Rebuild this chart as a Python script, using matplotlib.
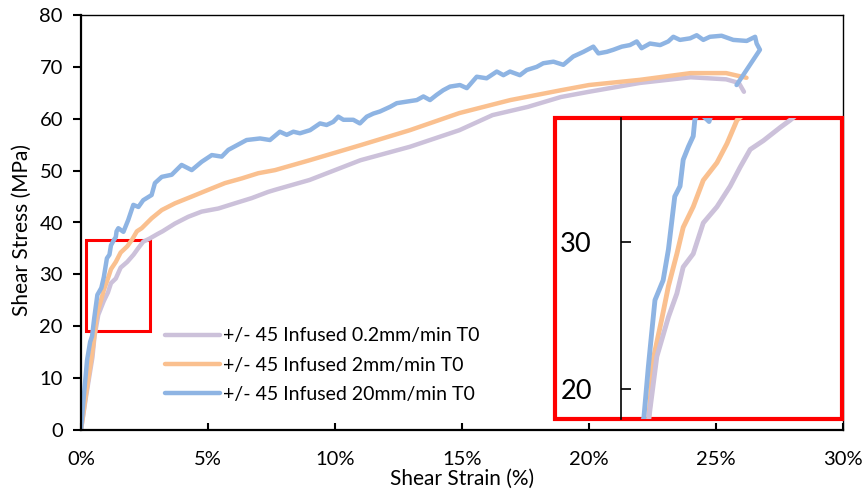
import matplotlib.pyplot as plt
from matplotlib.patches import Rectangle

plt.rcParams['font.family'] = ['Lato', 'DejaVu Sans']

# strain in %, stress in MPa (main chart + zoomed inset)
strain_02 = [0, 0.2, 0.45, 0.53, 0.55, 0.68, 0.90, 1.06, 1.18, 1.37, 1.56, 1.82, 2.07, 2.26, 2.45,
             2.70, 3.02, 3.21, 3.70, 4.22, 4.75, 5.41, 6.06, 6.72, 7.37, 7.64, 9.0,
             11.0, 12.95, 14.9, 16.2, 17.6, 18.9, 20.0, 22.0, 24.0, 25.4, 25.9, 26.1]
stress_02 = [0, 6.5, 14.0, 18.0, 18.6, 22.2, 24.9, 26.5, 28.3, 29.2, 31.3, 32.4, 33.8, 35.1, 36.3,
             36.9, 37.8, 38.3, 39.8, 41.1, 42.1, 42.7, 43.7, 44.7, 45.9, 46.3, 48.2,
             52.0, 54.6, 57.8, 60.7, 62.3, 64.2, 65.2, 66.9, 68.0, 67.6, 66.9, 65.2]

strain_2 = [0, 0.2, 0.42, 0.55, 0.61, 0.77, 0.90, 1.06, 1.18, 1.37, 1.56, 1.82, 2.01, 2.20, 2.39,
            2.78, 3.18, 3.70, 4.36, 5.01, 5.67, 6.33, 6.98, 7.64, 9.0, 11.0,
            12.95, 14.9, 16.9, 18.9, 20.0, 22.0, 24.0, 25.4, 26.2]
stress_2 = [0, 7.0, 14.0, 19.0, 22.0, 24.7, 27.0, 29.2, 31.0, 32.4, 34.2, 35.4, 36.7, 38.3, 38.9,
            40.8, 42.4, 43.7, 45.0, 46.3, 47.6, 48.5, 49.5, 50.1, 52.0, 54.9,
            57.8, 61.1, 63.6, 65.5, 66.5, 67.5, 68.8, 68.8, 67.9]

strain_20 = [0, 0.12, 0.24, 0.36, 0.436, 0.519, 0.582, 0.645, 0.80, 0.90, 0.96, 1.02, 1.12, 1.18,
             1.28, 1.37, 1.40, 1.47, 1.67, 1.86, 2.06, 2.26, 2.45, 2.78, 2.91, 3.18, 3.57, 3.96,
             4.36, 4.75, 5.15, 5.54, 5.8, 6.52,
             7.05, 7.44, 7.83, 8.10, 8.36, 8.62, 9.02, 9.41, 9.67, 9.93, 10.13, 10.33, 10.72, 10.98,
             11.25, 11.51, 11.77, 12.17, 12.43, 12.82, 13.22, 13.48, 13.74, 14.0, 14.26, 14.53, 14.92,
             15.19, 15.58, 15.97, 16.37, 16.63, 16.89, 17.28, 17.55, 17.94, 18.2, 18.6, 18.99, 19.38,
             19.78, 20.17, 20.37, 20.70, 20.96, 21.29, 21.61, 21.88, 22.07, 22.40, 22.80, 23.12, 23.32,
             23.58, 23.98, 24.24, 24.50, 24.76, 25.22, 25.68, 26.21, 26.54, 26.60, 26.73, 25.81]
stress_20 = [0, 7.0, 13.5, 17.0, 18.1, 21.5, 23.8, 26.05, 27.4, 29.5, 31.3, 33.1, 33.8, 35.6,
             36.5, 37.2, 38.3, 38.9, 38.2, 40.5, 43.4, 43.0, 44.3, 45.3, 47.6, 48.8, 49.2, 51.1,
             50.1, 51.7, 53.0, 52.7, 54.0, 55.9,
             56.2, 55.9, 57.5, 56.9, 57.5, 57.2, 57.8, 59.1, 58.8, 59.4, 60.4, 59.8, 59.8, 59.1,
             60.4, 61.0, 61.4, 62.3, 63.0, 63.3, 63.6, 64.3, 63.6, 64.6, 65.5, 66.2, 66.5,
             65.9, 68.1, 67.8, 69.1, 68.4, 69.1, 68.4, 69.4, 70.0, 70.7, 71.0, 70.4, 72.0,
             72.9, 73.9, 72.6, 72.9, 73.3, 73.9, 74.2, 74.9, 73.6, 74.5, 74.2, 74.9, 75.8,
             75.2, 75.5, 76.1, 75.2, 75.8, 76.0, 75.2, 75.0, 75.8, 74.5, 73.3, 66.5]

labels = ['+/- 45 Infused 0.2mm/min T0', '+/- 45 Infused 2mm/min T0', '+/- 45 Infused 20mm/min T0']
colors = ['#CCC1DA', '#FAC08F', '#8EB4E3']
xticks = [0, 5, 10, 15, 20, 25, 30]
yticks = [0, 10, 20, 30, 40, 50, 60, 70, 80]
inset_ticks = [20, 30]

fig = plt.figure(figsize=(8.63, 4.9), dpi=100)
ax = fig.add_axes([81 / 863, 60 / 490, 762 / 863, 415 / 490])

series = [(strain_02, stress_02), (strain_2, stress_2), (strain_20, stress_20)]
for (x, y), c, lab in zip(series, colors, labels):
    ax.plot(x, y, color=c, lw=3.2, label=lab, solid_joinstyle='round', solid_capstyle='round')

ax.set_xlim(0, 30)
ax.set_ylim(0, 80)
ax.set_xticks(xticks)
ax.set_xticklabels([f'{v}%' for v in xticks])
ax.set_yticks(yticks)
ax.tick_params(axis='x', direction='in', length=5, width=1.5, pad=15, labelsize=14.5)
ax.tick_params(axis='y', direction='out', length=6, width=1.5, pad=7, labelsize=14.5)
for s in ['left', 'bottom']:
    ax.spines[s].set_linewidth(1.6)
for s in ['top', 'right']:
    ax.spines[s].set_linewidth(1.0)

ax.set_xlabel('Shear Strain (%)', fontsize=15)
ax.xaxis.label.set_va('center')
ax.xaxis.set_label_coords(0.5, -0.118)
ax.set_ylabel('Shear Stress (MPa)', fontsize=15)
ax.yaxis.label.set_va('center')
ax.yaxis.set_label_coords(-0.077, 0.482)

# zoomed region marker
ax.add_patch(Rectangle((0.2, 19.1), 2.52, 17.5, fill=False, ec='#FF0000', lw=2.2, zorder=1))

fig.legend(loc='center left', bbox_to_anchor=(165 / 863, 1 - 365 / 490), frameon=False,
           fontsize=14, handlelength=2.85, handletextpad=0.15, labelspacing=0.62,
           borderpad=0, borderaxespad=0)

# inset
ins = fig.add_axes([555 / 863, 71 / 490, 287 / 863, 301 / 490])
for (x, y), c in zip([series[1], series[2], series[0]], [colors[1], colors[2], colors[0]]):
    ins.plot(x, y, color=c, lw=3.5, solid_joinstyle='round')
ins.set_xlim(-1.25, 4.19)
ins.set_ylim(17.96, 38.44)
ins.set_yticks(inset_ticks)
ins.set_xticks([])
for s in ['top', 'right', 'bottom']:
    ins.spines[s].set_visible(False)
ins.spines['left'].set_position(('data', 0))
ins.spines['left'].set_linewidth(1.2)
ins.tick_params(axis='y', direction='in', length=7, width=1.2, pad=21, labelsize=19.5)
ins.add_patch(Rectangle((0, 0), 1, 1, transform=ins.transAxes, fill=False, ec='#FF0000',
                        lw=3, clip_on=False))

fig.savefig('out.png', dpi=100)
